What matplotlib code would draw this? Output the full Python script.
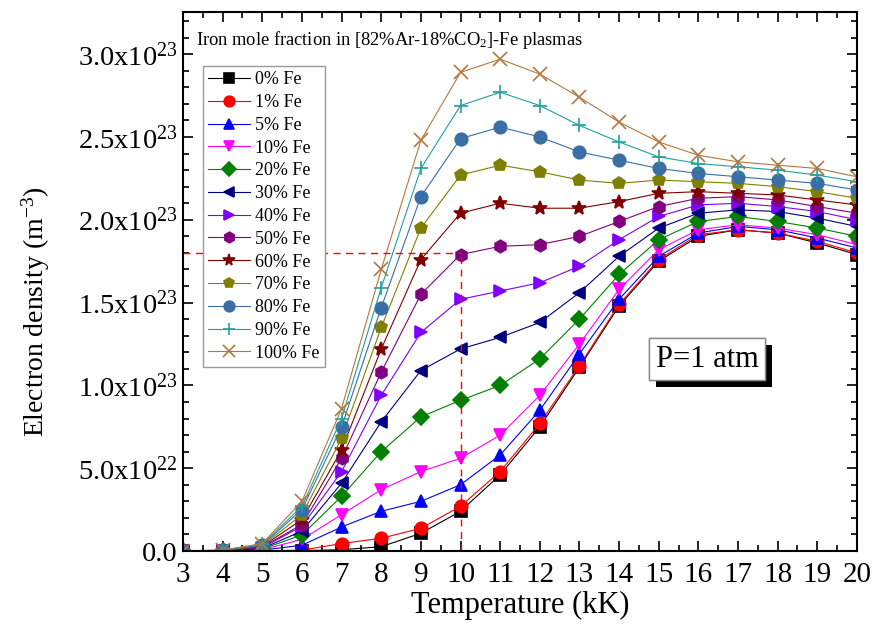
import numpy as np
import matplotlib
matplotlib.use('Agg')
import matplotlib.pyplot as plt
import matplotlib.patheffects as pe
from matplotlib.ticker import MultipleLocator, FuncFormatter

plt.rcParams['font.family'] = ['Liberation Serif', 'DejaVu Serif']
plt.rcParams['mathtext.fontset'] = 'custom'
plt.rcParams['mathtext.rm'] = 'Liberation Serif'
plt.rcParams['mathtext.it'] = 'Liberation Serif:italic'
plt.rcParams['mathtext.default'] = 'regular'

# temperature (kK)
T = [3, 4, 5, 6, 7, 8, 9, 10, 11, 12, 13, 14, 15, 16, 17, 18, 19, 20]

# electron density in units of 1e23 m^-3
fe0 = [0, 0, 0, 0.002, 0.008, 0.026, 0.107, 0.24, 0.46, 0.75, 1.11, 1.48, 1.75, 1.90, 1.94, 1.92, 1.86, 1.79]
fe1 = [0, 0, 0.001, 0.005, 0.045, 0.077, 0.137, 0.27, 0.48, 0.77, 1.12, 1.49, 1.76, 1.91, 1.94, 1.92, 1.87, 1.80]
fe5 = [0, 0, 0.005, 0.035, 0.145, 0.24, 0.30, 0.40, 0.58, 0.85, 1.19, 1.52, 1.78, 1.92, 1.96, 1.94, 1.89, 1.83]
fe10 = [0, 0.001, 0.008, 0.07, 0.22, 0.37, 0.48, 0.56, 0.70, 0.94, 1.25, 1.58, 1.82, 1.94, 1.97, 1.95, 1.91, 1.85]
fe20 = [0, 0.002, 0.012, 0.097, 0.33, 0.60, 0.81, 0.91, 1.00, 1.16, 1.40, 1.67, 1.88, 1.99, 2.02, 1.99, 1.95, 1.90]
fe30 = [0, 0.002, 0.016, 0.12, 0.41, 0.78, 1.09, 1.22, 1.29, 1.38, 1.56, 1.78, 1.95, 2.04, 2.06, 2.05, 2.01, 1.96]
fe40 = [0, 0.003, 0.02, 0.15, 0.48, 0.94, 1.32, 1.52, 1.57, 1.62, 1.72, 1.88, 2.02, 2.09, 2.10, 2.08, 2.05, 2.00]
fe50 = [0, 0.003, 0.024, 0.16, 0.56, 1.08, 1.55, 1.79, 1.84, 1.85, 1.90, 1.99, 2.08, 2.13, 2.14, 2.12, 2.08, 2.04]
fe60 = [0, 0.004, 0.028, 0.19, 0.61, 1.22, 1.76, 2.04, 2.10, 2.07, 2.07, 2.11, 2.16, 2.17, 2.16, 2.15, 2.12, 2.09]
fe70 = [0, 0.004, 0.032, 0.22, 0.68, 1.35, 1.95, 2.27, 2.33, 2.29, 2.24, 2.22, 2.24, 2.23, 2.22, 2.20, 2.17, 2.13]
fe80 = [0, 0.005, 0.036, 0.25, 0.75, 1.47, 2.14, 2.49, 2.56, 2.50, 2.41, 2.36, 2.31, 2.28, 2.26, 2.24, 2.22, 2.18]
fe90 = [0, 0.005, 0.04, 0.27, 0.80, 1.59, 2.31, 2.69, 2.77, 2.69, 2.57, 2.47, 2.38, 2.34, 2.32, 2.30, 2.27, 2.23]
fe100 = [0, 0.006, 0.045, 0.30, 0.86, 1.70, 2.48, 2.89, 2.97, 2.88, 2.74, 2.59, 2.47, 2.39, 2.35, 2.33, 2.31, 2.26]

series = [fe0, fe1, fe5, fe10, fe20, fe30, fe40, fe50, fe60, fe70, fe80, fe90, fe100]
labels = ['0% Fe', '1% Fe', '5% Fe', '10% Fe', '20% Fe', '30% Fe', '40% Fe',
          '50% Fe', '60% Fe', '70% Fe', '80% Fe', '90% Fe', '100% Fe']
colors = ['black', 'red', 'blue', 'magenta', 'green', 'navy', '#8000FF',
          'purple', '#800000', '#808000', '#3A6EA5', '#20A0A0', '#B07840']
markers = ['s', 'o', '^', 'v', 'D', '<', '>', 'h', '*', 'p', 'o', '+', 'x']
sizes = [8, 9, 9, 9, 8, 9, 9, 9, 10, 9, 9, 10, 10]

fig = plt.figure(figsize=(8.74, 6.34), dpi=100)
ax = fig.add_axes([0.2094, 0.1309, 0.7711, 0.8502])

for y, lab, c, m, s in zip(series, labels, colors, markers, sizes):
    ax.plot(T, np.array(y) * 1e23, color=c, marker=m, ms=s, lw=0.8,
            mec=c, mfc=c, mew=1.2, label=lab)

# guide lines at 10 kK
ax.plot([3, 10], [1.8e23, 1.8e23], color='red', ls=(0, (5, 4)), lw=1)
ax.plot([10, 10], [0, 1.8e23], color='red', ls=(0, (5, 4)), lw=1)

ax.set_xlim(3, 20)
ax.set_ylim(0, 3.255e23)
ax.xaxis.set_major_locator(MultipleLocator(1))
ax.xaxis.set_minor_locator(MultipleLocator(0.5))
ax.yaxis.set_major_locator(MultipleLocator(0.5e23))
ax.yaxis.set_minor_locator(MultipleLocator(0.1e23))


def fmt(v, pos):
    if abs(v) < 1e10:
        return '0.0'
    e = int(np.floor(np.log10(abs(v))))
    return '%.1fx10$^{%d}$' % (v / 10 ** e, e)


ax.yaxis.set_major_formatter(FuncFormatter(fmt))
ax.tick_params(which='both', direction='in', top=True, right=True, width=1.2)
ax.tick_params(which='major', length=7)
ax.tick_params(which='minor', length=4)
ax.tick_params(axis='x', labelsize=21, pad=8)
ax.tick_params(axis='y', labelsize=20.5, pad=4)
for sp in ax.spines.values():
    sp.set_linewidth(1.5)

ax.set_xlabel('Temperature (kK)', fontsize=22, labelpad=2)
ax.set_ylabel('Electron density (m$^{-3}$)', fontsize=20)
ax.yaxis.set_label_coords(-0.194, 0.443)

ax.text(0.02, 0.948, 'Iron mole fraction in [82%Ar-18%CO$_2$]-Fe plasmas',
        transform=ax.transAxes, fontsize=13.3, va='center', ha='left')

leg = ax.legend(loc='upper left', bbox_to_anchor=(0.029, 0.9), borderaxespad=0,
                fontsize=13, handlelength=2.3, labelspacing=0.32, handletextpad=0.3,
                borderpad=0.3, fancybox=False, framealpha=1, markerscale=0.85)
leg.get_frame().set_edgecolor('#999999')
leg.get_frame().set_linewidth(1)

t = ax.text(0.778, 0.356, 'P=1 atm', transform=ax.transAxes, fontsize=22,
            va='center', ha='center',
            bbox=dict(boxstyle='square,pad=0.22', fc='white', ec='#888888', lw=1))
t.get_bbox_patch().set_path_effects([
    pe.withSimplePatchShadow(offset=(5, -5), shadow_rgbFace='black', alpha=1),
    pe.Normal()])

fig.savefig('out.png', dpi=100)
